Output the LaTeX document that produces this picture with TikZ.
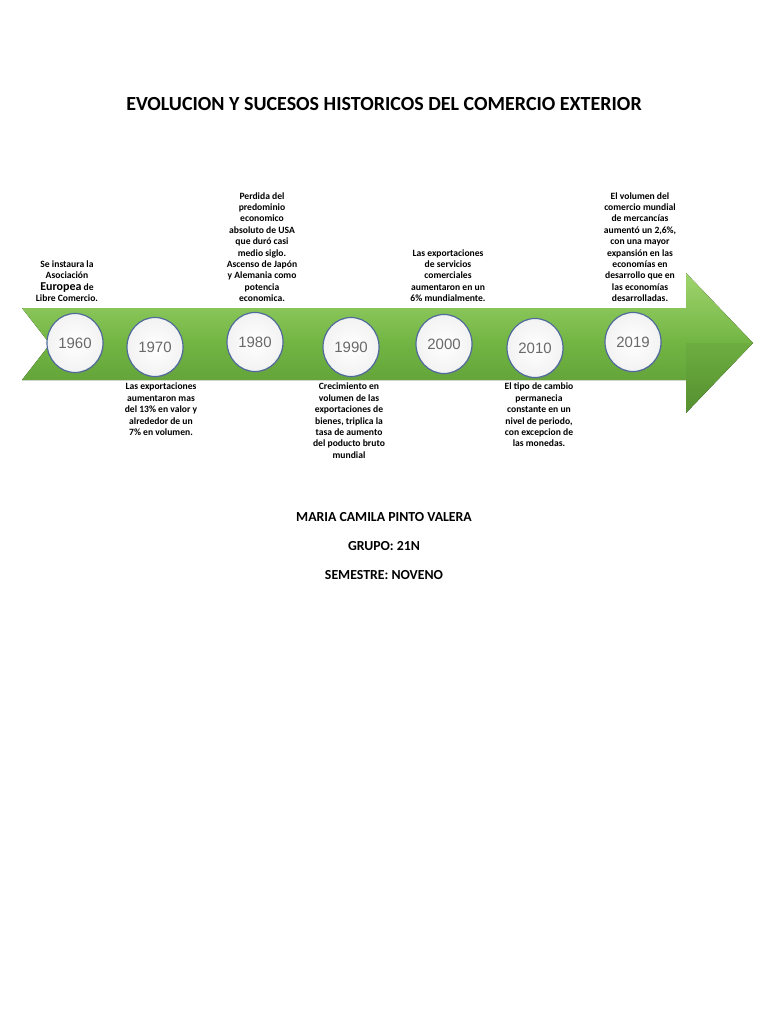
\documentclass[tikz,border=0pt]{standalone}
\usepackage{fontspec}
\setmainfont{Carlito}
\newfontfamily\yearfont{Liberation Sans}
\usepackage{xcolor}
\usepackage{tikz}
\usetikzlibrary{shapes.geometric, shadows}
\definecolor{arrowlight}{RGB}{160,212,110}
\definecolor{arrowmid}{RGB}{114,181,67}
\definecolor{arrowdark}{RGB}{88,150,50}
\definecolor{ringblue}{RGB}{79,107,155}
\definecolor{yeargrey}{RGB}{105,105,105}
\newcommand{\eventfont}{\bfseries\fontsize{9.6}{11.4}\selectfont}
\tikzstyle{year} = [draw=ringblue, line width=1.2pt, ellipse, minimum width=56pt, minimum height=59pt, inner sep=0pt, inner color=white, outer color=black!5, font=\yearfont\fontsize{15}{15}\selectfont, text=yeargrey, drop shadow={opacity=0.2, shadow xshift=1pt, shadow yshift=-1.5pt}]
\tikzstyle{upper} = [anchor=south, align=center, inner sep=0pt, font=\eventfont]
\tikzstyle{lower} = [anchor=north, align=center, inner sep=0pt, font=\eventfont]
\tikzstyle{heading} = [font=\bfseries\fontsize{20}{24}\selectfont]
\tikzstyle{footer} = [font=\bfseries\fontsize{13.8}{16}\selectfont]

\begin{document}
\begin{tikzpicture}[x=1pt, y=-1pt]
    \fill[white] (0,0) rectangle (768,1024);
    \useasboundingbox (0,0) rectangle (768,1024);

    \node (title) [heading] at (384,104) {EVOLUCION Y SUCESOS HISTORICOS DEL COMERCIO EXTERIOR};

    % the big arrow
    \fill[top color=arrowlight, bottom color=arrowdark, middle color=arrowmid] (22,308) -- (50,344) -- (22,380) -- (686,380) -- (686,413) -- (753,343) -- (686,273) -- (686,308) -- cycle;
    \fill[black, opacity=0.04] (686,343) -- (753,343) -- (686,413) -- cycle;

    \node (y1960) [year] at (75,343) {1960};
    \node (y1970) [year] at (155,347) {1970};
    \node (y1980) [year] at (255,342) {1980};
    \node (y1990) [year] at (351,347) {1990};
    \node (y2000) [year] at (444,344) {2000};
    \node (y2010) [year] at (535,348) {2010};
    \node (y2019) [year] at (633,342) {2019};

    \node (e1960) [upper] at (67,302) {Se instaura la\\Asociación\\{\fontsize{12}{14}\selectfont Europea} de\\Libre Comercio.};
    \node (e1980) [upper] at (262,302) {Perdida del\\predominio\\economico\\absoluto de USA\\que duró casi\\medio siglo.\\Ascenso de Japón\\y Alemania como\\potencia\\economica.};
    \node (e2000) [upper] at (448,302) {Las exportaciones\\de servicios\\comerciales\\aumentaron en un\\6\% mundialmente.};
    \node (e2019) [upper] at (640,302) {El volumen del\\comercio mundial\\de mercancías\\aumentó un 2,6\%,\\con una mayor\\expansión en las\\economías en\\desarrollo que en\\las economías\\desarrolladas.};

    \node (e1970) [lower] at (161,383) {Las exportaciones\\aumentaron mas\\del 13\% en valor y\\alrededor de un\\7\% en volumen.};
    \node (e1990) [lower] at (349,383) {Crecimiento en\\volumen de las\\exportaciones de\\bienes, triplica la\\tasa de aumento\\del poducto bruto\\mundial};
    \node (e2010) [lower] at (539,383) {El tipo de cambio\\permanecia\\constante en un\\nivel de periodo,\\con excepcion de\\las monedas.};

    \node (author) [footer] at (384,517) {MARIA CAMILA PINTO VALERA};
    \node (group) [footer] at (384,546) {GRUPO: 21N};
    \node (term) [footer] at (384,575) {SEMESTRE: NOVENO};
\end{tikzpicture}
\end{document}
